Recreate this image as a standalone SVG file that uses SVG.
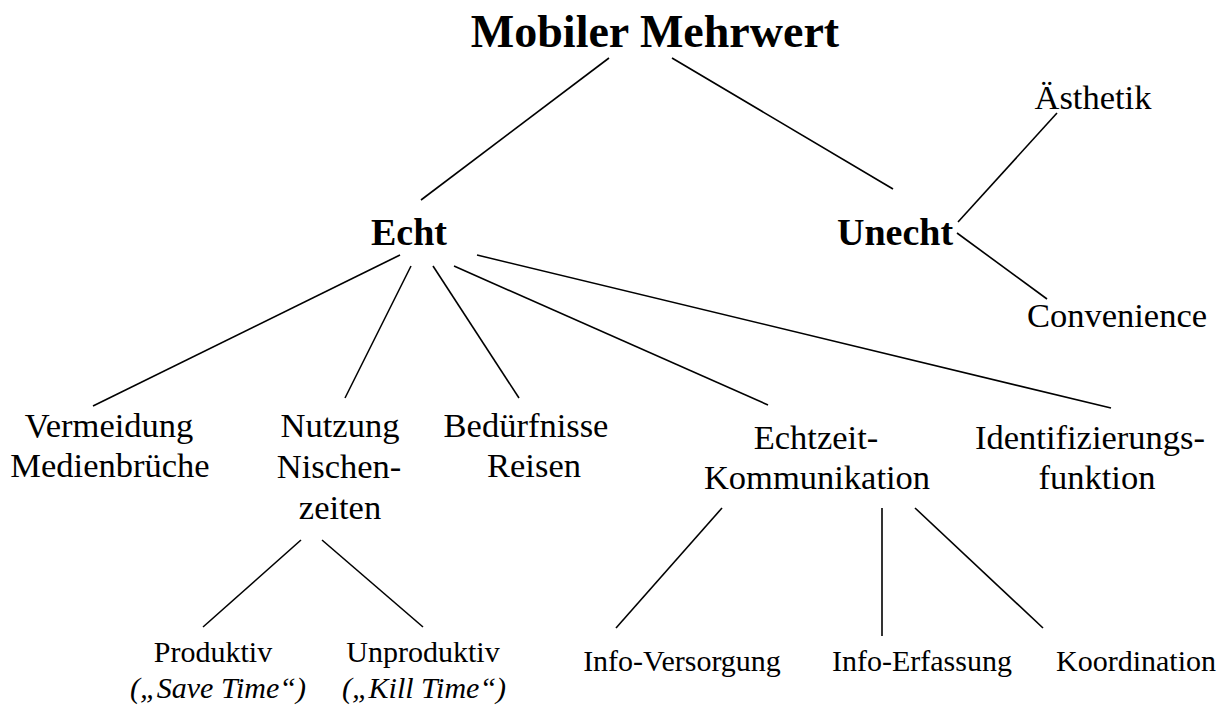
<svg xmlns="http://www.w3.org/2000/svg" width="1232" height="709" viewBox="0 0 1232 709">
  <style>
    text { fill: #000; text-anchor: middle; }
    .title { font-size: 46px; font-weight: bold; }
    .bold { font-size: 38px; font-weight: bold; }
    .mid { font-size: 34.5px; }
    .small { font-size: 30px; }
    .it { font-size: 30px; font-style: italic; }
    .edge line { stroke: #000; stroke-width: 1.6; stroke-linecap: butt; }
  </style>
  <rect width="1232" height="709" fill="#fff"/>

  <g class="edge" id="connectors">
    <line x1="609" y1="58" x2="421" y2="200"/>
    <line x1="672" y1="58" x2="893" y2="189"/>
    <line x1="958" y1="222" x2="1057" y2="113"/>
    <line x1="957" y1="233" x2="1047" y2="299"/>
    <line x1="400" y1="255" x2="93" y2="406"/>
    <line x1="411" y1="266" x2="345" y2="398"/>
    <line x1="433" y1="266" x2="519" y2="398"/>
    <line x1="454" y1="266" x2="768" y2="405"/>
    <line x1="477" y1="255" x2="1111" y2="408"/>
    <line x1="301" y1="540" x2="203" y2="627"/>
    <line x1="322" y1="540" x2="423" y2="627"/>
    <line x1="722" y1="508" x2="616" y2="628"/>
    <line x1="882" y1="508" x2="882" y2="636"/>
    <line x1="915" y1="508" x2="1043" y2="628"/>
  </g>

  <g font-family="'Liberation Serif', Tinos, 'DejaVu Serif', serif">
    <g id="mobiler-mehrwert"><text class="title" x="655" y="47">Mobiler Mehrwert</text></g>
    <g id="echt"><text class="bold" x="409" y="245">Echt</text></g>
    <g id="unecht"><text class="bold" x="895" y="245">Unecht</text></g>
    <g id="aesthetik"><text class="mid" x="1093" y="109">Ästhetik</text></g>
    <g id="convenience"><text class="mid" x="1117" y="327">Convenience</text></g>

    <g id="vermeidung">
      <text class="mid" x="109" y="437">Vermeidung</text>
      <text class="mid" x="110" y="477">Medienbrüche</text>
    </g>
    <g id="nutzung">
      <text class="mid" x="340" y="437">Nutzung</text>
      <text class="mid" x="339" y="478">Nischen-</text>
      <text class="mid" x="340" y="519">zeiten</text>
    </g>
    <g id="beduerfnisse">
      <text class="mid" x="526" y="437">Bedürfnisse</text>
      <text class="mid" x="534" y="477">Reisen</text>
    </g>
    <g id="echtzeit">
      <text class="mid" x="816" y="449">Echtzeit-</text>
      <text class="mid" x="817" y="489">Kommunikation</text>
    </g>
    <g id="identifizierung">
      <text class="mid" x="1090" y="449">Identifizierungs-</text>
      <text class="mid" x="1097" y="489">funktion</text>
    </g>

    <g id="produktiv">
      <text class="small" x="213" y="662">Produktiv</text>
      <text class="it" x="218" y="698">(„Save Time“)</text>
    </g>
    <g id="unproduktiv">
      <text class="small" x="423" y="662">Unproduktiv</text>
      <text class="it" x="424" y="698">(„Kill Time“)</text>
    </g>
    <g id="info-versorgung"><text class="small" x="682" y="671">Info-Versorgung</text></g>
    <g id="info-erfassung"><text class="small" x="922" y="671">Info-Erfassung</text></g>
    <g id="koordination"><text class="small" x="1136" y="671">Koordination</text></g>
  </g>
</svg>
